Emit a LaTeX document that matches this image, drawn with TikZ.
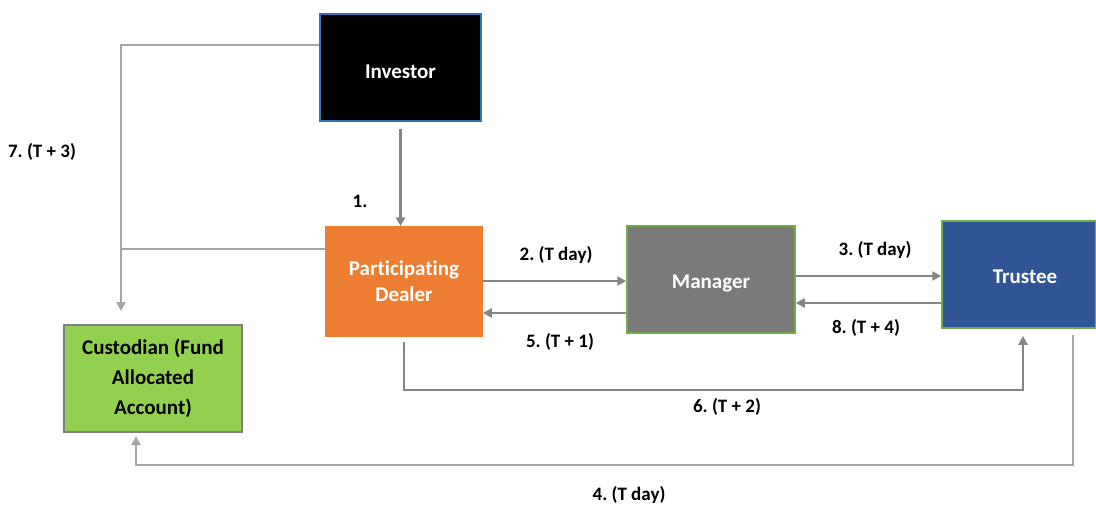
\documentclass[tikz,border=0pt]{standalone}
\usepackage{fontspec}
\setmainfont{Carlito}[Ligatures=NoCommon]
\usetikzlibrary{arrows.meta}
\frenchspacing
\definecolor{invborder}{HTML}{2E75B6}
\definecolor{dealerfill}{HTML}{ED7D31}
\definecolor{mgrfill}{HTML}{7A7A7A}
\definecolor{trfill}{HTML}{2F5597}
\definecolor{grborder}{HTML}{70AD47}
\definecolor{custfill}{HTML}{92D050}
\definecolor{custborder}{HTML}{7F7F7F}
\definecolor{darkline}{HTML}{858585}
\definecolor{lightline}{HTML}{A6A6A6}
\newcommand{\lowertext}[2]{\raisebox{-#1}[0pt][0pt]{#2}}
\tikzset{
  box/.style={rectangle, inner sep=0pt, align=center, line width=1.5pt,
    font=\fontsize{21}{26}\selectfont\bfseries},
  lbl/.style={inner sep=0pt, font=\fontsize{19}{22}\selectfont\bfseries},
  dk/.style={draw=darkline, line width=2.8pt},
  lt/.style={draw=lightline, line width=2.8pt},
  arr/.style={-{Triangle[length=9pt,width=9pt]}}
}
\begin{document}
\begin{tikzpicture}[x=1pt,y=-1pt]
\useasboundingbox (0,0) rectangle (1096,504);
% boxes
\node[box, fill=black, draw=invborder, text=white, minimum width=161pt, minimum height=107pt] (Investor) at (400.5,67.5) {\lowertext{10.5pt}{Investor}};
\node[box, fill=dealerfill, draw=dealerfill, text=white, minimum width=156pt, minimum height=109pt] (Dealer) at (404,281.5) {Participating\\Dealer};
\node[box, fill=mgrfill, draw=grborder, text=white, minimum width=168pt, minimum height=107pt] (Manager) at (711,279.5) {\lowertext{8.5pt}{Manager}};
\node[box, fill=trfill, draw=grborder, text=white, minimum width=154pt, minimum height=107pt] (Trustee) at (1019,274.5) {\hspace*{12pt}\lowertext{8.5pt}{Trustee}};
\node[box, fill=custfill, draw=custborder, text=black, line width=2pt, minimum width=178pt, minimum height=107pt,
  font=\fontsize{21}{30}\selectfont\bfseries] (Custodian) at (153,378.5) {Custodian (Fund\\Allocated\\Account)};
% helper coordinates
\coordinate (k7) at (121,45);
\coordinate (k1) at (121,249);
\coordinate (c7) at ([yshift=13pt]Custodian.north);
\coordinate (m2) at ([yshift=-1.5pt]Manager.west);
\coordinate (m5) at ([yshift=-33.5pt]Manager.west);
\coordinate (m3) at ([yshift=3.5pt]Manager.east);
\coordinate (m8) at ([yshift=-23.5pt]Manager.east);
\coordinate (k6) at (1023,390);
\coordinate (t6) at ([yshift=-7pt]Trustee.south);
\coordinate (t4) at ([yshift=-6pt]Trustee.south);
\coordinate (k4a) at (1073,465);
\coordinate (k4b) at (136,465);
\coordinate (c4) at ([yshift=-3pt]Custodian.south);
% connectors
\draw[lt, arr] (Investor.west |- k7) -- (k7) -- (k7 |- c7);
\draw[lt] (Dealer.west |- k1) -- (k1);
\draw[dk, arr] ([yshift=-7pt]Investor.south) -- (Investor.south |- Dealer.north);
\draw[dk, arr] (Dealer.east |- m2) -- (m2);
\draw[dk, arr] (m5) -- (Dealer.east |- m5);
\draw[dk, arr] (m3) -- (Trustee.west |- m3);
\draw[dk, arr] (Trustee.west |- m8) -- (m8);
\draw[dk, arr] ([yshift=-5pt]Dealer.south) |- (k6) -- (k6 |- t6);
\draw[lt, arr] (k4a |- t4) -- (k4a) -- (k4b) -- (k4b |- c4);
% labels
\node[lbl] (l1) at (360,201) {1.};
\node[lbl] (l2) at (556,255) {2. (T day)};
\node[lbl] (l5) at (560,342) {5. (T + 1)};
\node[lbl] (l3) at (875,250) {3. (T day)};
\node[lbl] (l8) at (866,328) {8. (T + 4)};
\node[lbl] (l6) at (727,407) {6. (T + 2)};
\node[lbl] (l4) at (629,495) {4. (T day)};
\node[lbl] (l7) at (42,152) {7. (T + 3)};
\end{tikzpicture}
\end{document}
